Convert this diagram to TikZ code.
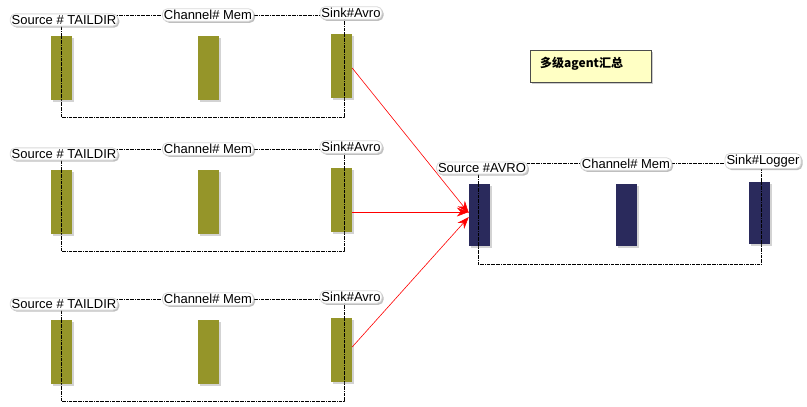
\documentclass[tikz,border=0pt]{standalone}
\usepackage{fontspec}
\setmainfont{Liberation Sans}
\newfontfamily\cjk{Noto Sans CJK SC}
\usetikzlibrary{shadows,arrows.meta}
\definecolor{olive}{HTML}{959529}
\definecolor{navy}{HTML}{2A2A5C}
\definecolor{note}{HTML}{FFFFC4}
\begin{document}
\begin{tikzpicture}[x=1pt,y=-1pt,
 lbl/.style={fill=white,draw=black!15,line width=0.8pt,rounded corners=5pt,inner sep=1.5pt,font=\fontsize{13}{13}\selectfont,drop shadow={shadow xshift=1.5pt,shadow yshift=-1.5pt,opacity=0.5}},
 bar/.style={minimum width=21pt,minimum height=64pt,inner sep=0,draw=none,drop shadow={shadow xshift=2pt,shadow yshift=-2pt,opacity=0.35}},
 dl/.style={densely dashdotted,line width=0.5pt},
 ar/.style={red,line width=0.6pt,-{Stealth[length=12pt,width=9pt]}}]
\useasboundingbox (0,0) rectangle (807,407);
\foreach \g/\dy in {a/0,b/134,c/284}{
 \draw[dl] (61,15+\dy) -- (344,15+\dy);
 \draw[dl] (61,22+\dy) -- (61,117+\dy) -- (344,117+\dy) -- (344,15+\dy);
 \node[bar,fill=olive] (\g1) at (61.5,68+\dy) {};
 \node[bar,fill=olive] (\g2) at (208.5,68+\dy) {};
 \node[bar,fill=olive] (\g3) at (341.5,66+\dy) {};
 \draw[dl] (61,36+\dy) -- (61,100+\dy);
 \draw[dl] (344,34+\dy) -- (344,98+\dy);
 \node[lbl] (\g s) at (64,20+\dy) {Source \# TAILDIR};
 \node[lbl] (\g c) at (208,15+\dy) {Channel\# Mem};
 \node[lbl] (\g k) at (351,13+\dy) {Sink\#Avro};
}
\draw[dl] (478,163) -- (761,163);
\draw[dl] (478,170) -- (478,264) -- (761,264) -- (761,163);
\node[bar,fill=navy,minimum height=62pt] (d1) at (479.5,215) {};
\node[bar,fill=navy,minimum height=62pt] (d2) at (626.5,215) {};
\node[bar,fill=navy,minimum height=62pt] (d3) at (759.5,213) {};
\draw[dl] (478,184) -- (478,246);
\draw[dl] (761,182) -- (761,244);
\node[lbl] (ds) at (482,168) {Source \#AVRO};
\node[lbl] (dc) at (626,164) {Channel\# Mem};
\node[lbl] (dk) at (763,161) {Sink\#Logger};
\node[draw=black!70,fill=note,minimum width=121pt,minimum height=32pt,inner sep=0,
 drop shadow={shadow xshift=2pt,shadow yshift=-2pt,opacity=0.4}] (n) at (590.5,66) {};
\node[anchor=west,inner sep=0,font=\cjk\bfseries\fontsize{12}{12}\selectfont] (nt) at (540,64) {多级agent汇总};
\draw[ar] (a3.east |- 0,68) -- (d1.west |- 0,213);
\draw[ar] (b3.east |- 0,212) -- (d1.west |- 0,212);
\draw[ar] (c3.east |- 0,347) -- (d1.west |- 0,217);
\end{tikzpicture}
\end{document}
